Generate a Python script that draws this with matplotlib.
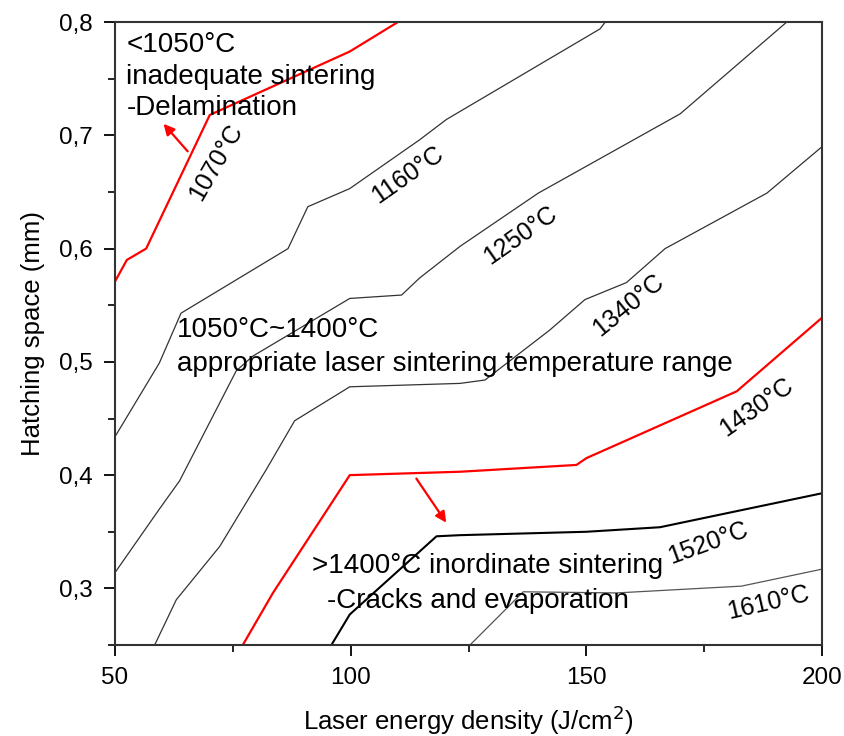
import matplotlib
matplotlib.use("Agg")
import matplotlib.pyplot as plt
from matplotlib.ticker import MultipleLocator, FuncFormatter

plt.rcParams['font.family'] = ['Liberation Sans', 'DejaVu Sans']

# isotherms (laser energy density, hatching space)
x1070 = [50, 52.5, 56.6, 70.1, 99.8, 110]
y1070 = [0.571, 0.590, 0.600, 0.718, 0.774, 0.800]

x1160 = [50, 59.4, 64.0, 86.7, 90.9, 99.8, 114.6, 120.3, 152.9, 154]
y1160 = [0.434, 0.499, 0.543, 0.600, 0.637, 0.653, 0.696, 0.714, 0.794, 0.800]

x1250 = [50, 59.4, 63.7, 75.7, 79.2, 99.8, 110.8, 114.6, 123.2, 139.8, 169.9, 192.5]
y1250 = [0.314, 0.370, 0.395, 0.492, 0.505, 0.556, 0.559, 0.574, 0.602, 0.649, 0.719, 0.800]

x1340 = [58.4, 63.0, 72.2, 82.1, 88.1, 99.8, 123.2, 128.5, 142.2, 149.7, 158.5, 166.7, 188.3, 200]
y1340 = [0.250, 0.290, 0.337, 0.405, 0.448, 0.478, 0.481, 0.484, 0.528, 0.555, 0.570, 0.600, 0.649, 0.690]

x1430 = [77.1, 83.5, 99.8, 123.2, 147.9, 150, 181.9, 200]
y1430 = [0.250, 0.296, 0.400, 0.403, 0.409, 0.415, 0.474, 0.539]

x1520 = [95.9, 99.8, 118.2, 123.2, 150, 165.6, 200]
y1520 = [0.250, 0.277, 0.346, 0.347, 0.350, 0.354, 0.384]

x1610 = [125.3, 136.6, 156.4, 182.9, 200]
y1610 = [0.250, 0.297, 0.296, 0.302, 0.317]

fig = plt.figure(figsize=(8.44, 7.36), dpi=100)
ax = fig.add_axes([0.1363, 0.1236, 0.8377, 0.8464])

ax.plot(x1070, y1070, color='red', lw=1.6)
ax.plot(x1160, y1160, color='#333333', lw=0.9)
ax.plot(x1250, y1250, color='#333333', lw=0.9)
ax.plot(x1340, y1340, color='#333333', lw=0.9)
ax.plot(x1430, y1430, color='red', lw=1.6)
ax.plot(x1520, y1520, color='black', lw=1.5)
ax.plot(x1610, y1610, color='#555555', lw=0.9)

ax.set_xlim(50, 200)
ax.set_ylim(0.25, 0.8)
ax.xaxis.set_major_locator(MultipleLocator(50))
ax.xaxis.set_minor_locator(MultipleLocator(25))
ax.yaxis.set_major_locator(MultipleLocator(0.1))
ax.yaxis.set_minor_locator(MultipleLocator(0.05))
ax.yaxis.set_major_formatter(FuncFormatter(lambda v, p: ('%.1f' % v).replace('.', ',')))
ax.tick_params(which='major', direction='out', length=8, width=1.3, labelsize=17.5, pad=8)
ax.tick_params(which='minor', direction='out', length=5, width=1.2)
for s in ax.spines.values():
    s.set_linewidth(1.5)
    s.set_color('#333333')

ax.set_xlabel('Laser energy density (J/cm$^2$)', fontsize=18.5, labelpad=10)
ax.set_ylabel('Hatching space (mm)', fontsize=18.5, labelpad=10)

fs = 20
ax.text(52.4, 0.780, '<1050°C', fontsize=fs, va='center', ha='left')
ax.text(52.4, 0.7515, 'inadequate sintering', fontsize=fs, va='center', ha='left')
ax.text(52.4, 0.724, '-Delamination', fontsize=fs, va='center', ha='left')
ax.text(63.1, 0.5284, '1050°C~1400°C', fontsize=fs, va='center', ha='left')
ax.text(63.1, 0.4984, 'appropriate laser sintering temperature range', fontsize=fs, va='center', ha='left')
ax.text(91.7, 0.3194, '>1400°C inordinate sintering', fontsize=fs, va='center', ha='left')
ax.text(94.9, 0.2885, '-Cracks and evaporation', fontsize=fs, va='center', ha='left')

lab = dict(fontsize=18, ha='center', va='center', rotation_mode='anchor')
ax.text(71.5, 0.676, '1070°C', rotation=60, **lab)
ax.text(112.1, 0.665, '1160°C', rotation=35, **lab)
ax.text(135.9, 0.612, '1250°C', rotation=35, **lab)
ax.text(158.8, 0.550, '1340°C', rotation=39, **lab)
ax.text(186.0, 0.460, '1430°C', rotation=35, **lab)
ax.text(175.8, 0.340, '1520°C', rotation=20, **lab)
ax.text(188.5, 0.287, '1610°C', rotation=13, **lab)

arrow = dict(arrowstyle='-|>', color='red', lw=1.6, mutation_scale=16)
ax.annotate('', xy=(59.9, 0.712), xytext=(65.8, 0.684), arrowprops=arrow)
ax.annotate('', xy=(120.6, 0.356), xytext=(113.6, 0.399), arrowprops=arrow)

fig.savefig('out.png', dpi=100)
